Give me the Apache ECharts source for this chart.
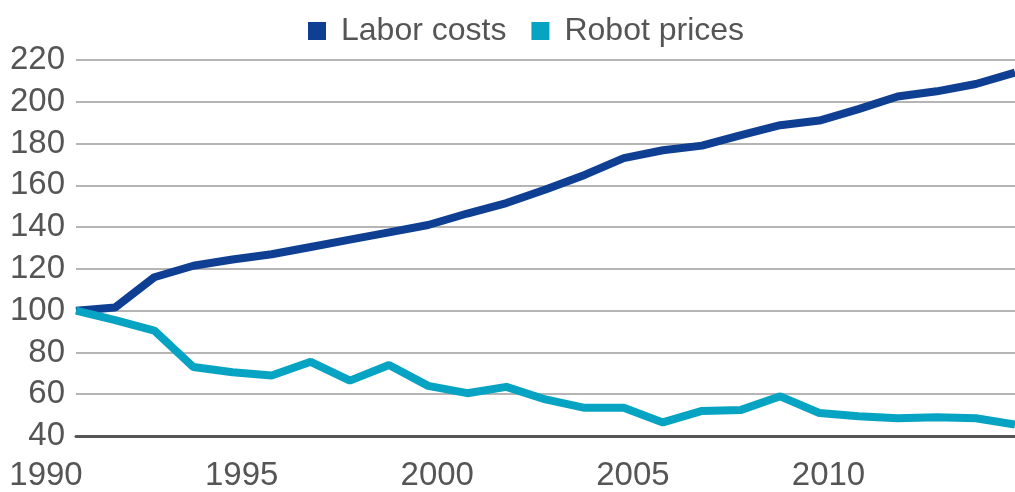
<!DOCTYPE html>
<html><head><meta charset="utf-8">
<script src="https://cdn.jsdelivr.net/npm/echarts@6/dist/echarts.min.js"></script>
<style>html,body{margin:0;padding:0;background:#fff}#c{width:1015px;height:492px}</style>
</head><body><div id="c"></div>
<script>
const years = ['1990','1991','1992','1993','1994','1995','1996','1997','1998','1999','2000','2001','2002','2003','2004','2005','2006','2007','2008','2009','2010','2011','2012','2013','2014'];
const laborCosts = [100,101.5,116,121.5,124.5,127,130.5,134,137.5,141,146.5,151.5,158,165,173,176.8,179,184,188.8,191,196.5,202.5,205,208.5,214];
const robotPrices = [100,95.5,90.5,73,70.5,69,75.5,66.5,74,64,60.5,63.5,57.5,53.5,53.5,46.5,52,52.5,59,51,49.5,48.5,49,48.5,45.5];
const yTicks = [40,60,80,100,120,140,160,180,200,220];
const seriesNames = ['Labor costs','Robot prices'];
const colors = ['#0f3f93','#06a3c3'];
const FONT = '"Liberation Sans", Arial, sans-serif';
const chart = echarts.init(document.getElementById('c'), null, {renderer:'canvas'});
chart.setOption({
  animation:false,
  color: colors,
  legend:{
    data: seriesNames, left: 303, top: 10, icon:'rect', itemWidth:18, itemHeight:18, itemGap:25,
    textStyle:{fontFamily:FONT, fontSize:32, color:'#555', padding:[0,0,0,10]}
  },
  grid:{left:76, right:-13, top:60, bottom:56, containLabel:false},
  xAxis:{
    type:'category', data: years, boundaryGap:false,
    axisLine:{show:true, lineStyle:{color:'#555', width:3}},
    axisTick:{show:false},
    axisLabel:{interval:4, fontFamily:FONT, fontSize:33, color:'#555', margin:23, padding:[0,60,0,0]},
    splitLine:{show:false}
  },
  yAxis:{
    type:'value', min:yTicks[0], max:yTicks[yTicks.length-1], interval:20,
    axisLine:{show:false}, axisTick:{show:false},
    axisLabel:{fontFamily:FONT, fontSize:33, color:'#555', margin:11, padding:[0,0,12,0]},
    splitLine:{lineStyle:{color:'#b5b5b5', width:2}}
  },
  series:[
    {name:seriesNames[0], type:'line', data:laborCosts, symbol:'none', lineStyle:{width:8, color:colors[0]}, z:3},
    {name:seriesNames[1], type:'line', data:robotPrices, symbol:'none', lineStyle:{width:8, color:colors[1]}, z:4}
  ]
});
</script></body></html>
